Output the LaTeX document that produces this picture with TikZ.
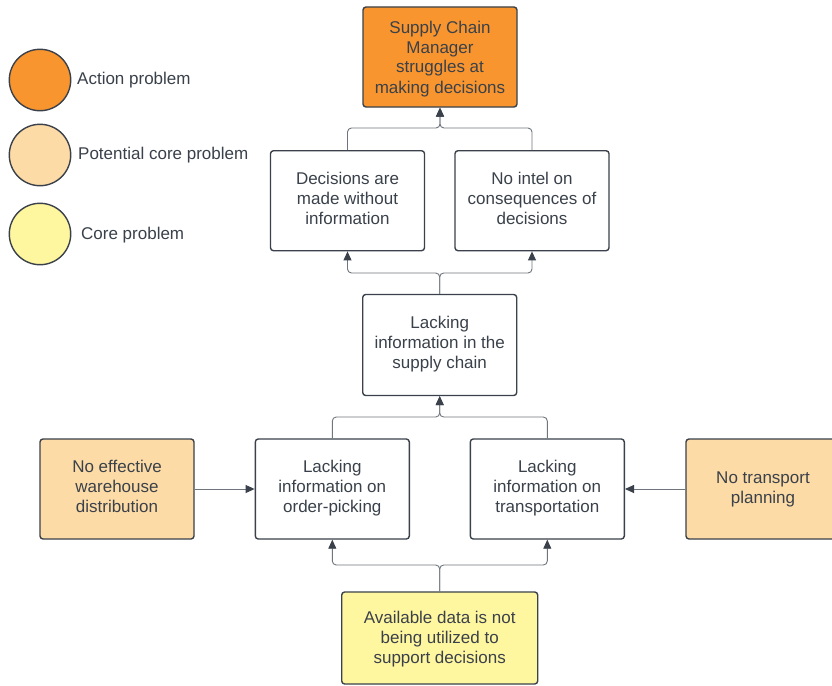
\documentclass[tikz,border=0pt]{standalone}
\usepackage{fontspec}
\setmainfont{Liberation Sans}
\usetikzlibrary{arrows.meta}
\definecolor{inkdark}{HTML}{3A414A}
\definecolor{linkgray}{HTML}{6F757C}
\definecolor{actionfill}{HTML}{F8952F}
\definecolor{potentialfill}{HTML}{FDDBA6}
\definecolor{corefill}{HTML}{FFF6A0}
% centred lines of box text, nudged up by #1 without changing the box size
\newcommand{\boxlines}[2]{\raisebox{#1}[\height][\depth]{\begin{tabular}{@{}c@{}}#2\end{tabular}}}
\tikzset{
  box/.style={draw=inkdark, line width=1.4pt, rounded corners=3pt, rectangle,
    minimum width=154pt, minimum height=100pt, inner sep=0pt, align=center,
    text=inkdark, font=\fontsize{17}{20}\selectfont},
  legdot/.style={draw=inkdark, line width=1.4pt, circle, minimum size=61.4pt, inner sep=0pt},
  legtext/.style={anchor=west, text=inkdark, font=\fontsize{17}{20}\selectfont, inner sep=0pt},
  conn/.style={draw=linkgray, line width=0.9pt, rounded corners=4pt,
    -{Triangle[length=9pt,width=8pt,color=inkdark]}},
}
\begin{document}
\begin{tikzpicture}[x=1pt, y=-1pt]
\useasboundingbox (0,0) rectangle (832,685);
\clip (0,0) rectangle (832,685);
\fill[white] (0,0) rectangle (832,685);

% legend
\node[legdot, fill=actionfill] (l1) at (40,80) {};
\node[legdot, fill=potentialfill] (l2) at (40,155) {};
\node[legdot, fill=corefill] (l3) at (40,234) {};
\node[legtext] (t1) at (77,80) {Action problem};
\node[legtext] (t2) at (78,155) {Potential core problem};
\node[legtext] (t3) at (81,235) {Core problem};

% problem boxes
\node[box, fill=actionfill] (top) at (440,57) {\boxlines{-2pt}{Supply Chain\\Manager\\struggles at\\making decisions}};
\node[box] (dec) at (347.5,200.7) {\boxlines{0pt}{Decisions are\\made without\\information}};
\node[box] (intel) at (532,200.7) {\boxlines{0pt}{No intel on\\consequences of\\decisions}};
\node[box, minimum height=101pt] (sc) at (439.7,345) {\boxlines{1pt}{Lacking\\information in the\\supply chain}};
\node[box, fill=potentialfill] (wh) at (117,489) {\boxlines{1pt}{No effective\\warehouse\\distribution}};
\node[box] (op) at (332.3,489) {\boxlines{1pt}{Lacking\\information on\\order-picking}};
\node[box] (tr) at (547.3,489) {\boxlines{1pt}{Lacking\\information on\\transportation}};
\node[box, fill=potentialfill] (ntp) at (763,489) {\boxlines{0pt}{No transport\\planning}};
\node[box, fill=corefill, minimum width=196pt, minimum height=92pt] (data) at (439.7,638) {\boxlines{-1pt}{Available data is not\\being utilized to\\support decisions}};

% junction points of the merging connectors
\coordinate (j1) at (440,128);
\coordinate (j2) at (439.7,273);
\coordinate (j3) at (439.7,417);
\coordinate (j4) at (439.7,565);

% connectors
\draw[conn] (dec.north) |- (j1) -- (top.south);
\draw[conn] (intel.north) |- (j1) -- (top.south);
\draw[conn] (sc.north) -- (j2) -| (dec.south);
\draw[conn] (sc.north) -- (j2) -| (intel.south);
\draw[conn] (op.north) |- (j3) -- (sc.south);
\draw[conn] (tr.north) |- (j3) -- (sc.south);
\draw[conn] (data.north) -- (j4) -| (op.south);
\draw[conn] (data.north) -- (j4) -| (tr.south);
\draw[conn] (wh.east) -- (op.west);
\draw[conn] (ntp.west) -- (tr.east);
\end{tikzpicture}
\end{document}
